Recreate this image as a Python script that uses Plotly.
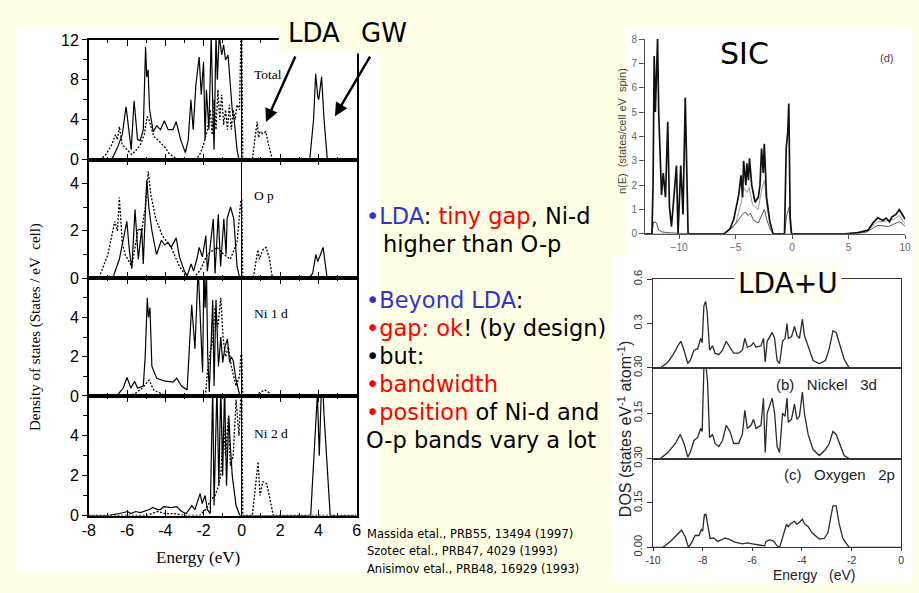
import plotly.graph_objects as go

W, H = 919, 593
BG = "#FFFFE5"

# ---------------- data (energy eV, DOS) ----------------
# Left figure: GW (solid) and LDA (dotted) DOS of NiO
total_gw = [(-8, 0), (-6.8, 0), (-6.5, 1.2), (-6.25, 2.5), (-6.05, 5.3), (-5.9, 2.5), (-5.78, 1.0),
            (-5.63, 5.9), (-5.45, 2.0), (-5.32, 1.9), (-5.15, 3.0), (-5.03, 11.3), (-4.97, 8.3),
            (-4.9, 9.0), (-4.82, 5.0), (-4.63, 2.8), (-4.45, 3.4), (-4.25, 3.0), (-4.05, 3.9),
            (-3.85, 3.0), (-3.6, 3.0), (-3.43, 3.8), (-3.2, 2.0), (-2.95, 0.7), (-2.8, 2.0),
            (-2.66, 6.0), (-2.54, 3.0), (-2.4, 7.5), (-2.23, 10.3), (-2.12, 6.5), (-2.0, 9.8),
            (-1.92, 2.0), (-1.85, 7.0), (-1.72, 3.0), (-1.6, 12.5), (-1.52, 5.5), (-1.45, 1.0),
            (-1.35, 12.5), (-1.28, 8.0), (-1.18, 12.5), (-1.05, 10.5), (-0.95, 11.5), (-0.85, 10.0),
            (-0.72, 10.5), (-0.62, 7.5), (-0.5, 5.0), (-0.4, 4.0), (-0.25, 1.0), (-0.15, 0.0),
            (3.55, 0), (3.75, 4.0), (3.86, 8.6), (3.97, 6.3), (4.02, 6.0), (4.17, 8.3), (4.3, 4.0),
            (4.47, 0), (4.6, 0.1), (6, 0.1)]
total_lda = [(-8, 0), (-7.4, 0), (-7.1, 0.5), (-6.8, 1.5), (-6.6, 2.5), (-6.5, 2.0), (-6.4, 3.3),
             (-6.25, 1.5), (-6.0, 1.0), (-5.75, 0.5), (-5.5, 1.0), (-5.3, 1.5), (-5.1, 2.5),
             (-4.95, 4.3), (-4.85, 4.0), (-4.6, 2.3), (-4.4, 2.0), (-4.2, 1.6), (-4.0, 1.2),
             (-3.8, 0.6), (-3.5, 0.2), (-3.2, 0), (-2.4, 0), (-2.2, 0.5), (-2.0, 1.5), (-1.8, 3.0),
             (-1.65, 5.0), (-1.55, 2.5), (-1.45, 6.0), (-1.35, 3.0), (-1.25, 7.0), (-1.15, 4.0),
             (-1.05, 6.5), (-0.95, 3.5), (-0.85, 5.0), (-0.75, 3.0), (-0.65, 5.5), (-0.55, 3.0),
             (-0.45, 5.0), (-0.35, 4.0), (-0.25, 5.5), (-0.12, 5.0), (-0.05, 12), (0.0, 12),
             (0.05, 0), (0.55, 0), (0.7, 2.0), (0.8, 3.8), (0.88, 2.2), (0.95, 2.8), (1.1, 2.6),
             (1.25, 2.8), (1.4, 1.5), (1.6, 0), (6, 0)]

op_gw = [(-8, 0), (-6.75, 0), (-6.4, 0.8), (-6.2, 1.6), (-6.01, 2.4), (-5.88, 1.2), (-5.75, 0.4),
         (-5.58, 2.9), (-5.45, 1.2), (-5.41, 0.8), (-5.23, 2.1), (-5.15, 0.6), (-4.97, 4.15),
         (-4.86, 3.0), (-4.7, 2.0), (-4.55, 1.3), (-4.46, 1.0), (-4.2, 1.6), (-4.03, 1.4),
         (-3.86, 1.5), (-3.69, 1.3), (-3.43, 1.7), (-3.26, 0.9), (-3.0, 0.3), (-2.86, 0.1),
         (-2.65, 0.6), (-2.52, 0.3), (-2.35, 0.8), (-2.23, 1.3), (-2.06, 0.9), (-1.88, 1.8),
         (-1.8, 0.3), (-1.49, 2.5), (-1.4, 0.2), (-1.23, 2.7), (-1.11, 0.5), (-0.94, 2.5),
         (-0.82, 1.0), (-0.77, 2.5), (-0.59, 3.0), (-0.42, 2.5), (-0.25, 0.5), (-0.11, 0),
         (3.5, 0), (3.7, 0.2), (3.87, 1.0), (3.97, 0.7), (4.25, 1.3), (4.46, 0), (4.6, 0.07), (6, 0.07)]
op_lda = [(-8, 0), (-7.47, 0), (-7.0, 1.0), (-6.8, 1.8), (-6.64, 2.4), (-6.5, 2.0), (-6.4, 3.4),
          (-6.25, 1.5), (-6.1, 1.0), (-5.75, 0.5), (-5.6, 1.2), (-5.41, 2.1), (-5.23, 2.0),
          (-5.05, 3.0), (-4.89, 4.5), (-4.75, 3.5), (-4.5, 2.5), (-4.15, 1.8), (-3.69, 1.3),
          (-3.26, 0.5), (-2.92, 0.1), (-2.6, 0), (-2.3, 0.2), (-2.14, 0.4), (-1.8, 1.0),
          (-1.3, 1.3), (-0.94, 1.0), (-0.6, 0.8), (-0.25, 1.5), (-0.05, 3.3), (0.0, 3.3),
          (0.05, 0), (0.6, 0), (0.84, 1.2), (0.92, 0.8), (1.1, 1.2), (1.27, 1.3), (1.45, 0.8),
          (1.6, 0), (6, 0)]

ni1_gw = [(-8, 0), (-6.7, 0), (-6.45, 0.1), (-6.2, 0.4), (-6.0, 0.94), (-5.8, 0.4), (-5.6, 0.74),
          (-5.45, 0.4), (-5.15, 0.5), (-5.05, 2.0), (-4.94, 5.0), (-4.88, 4.0), (-4.8, 4.5),
          (-4.7, 1.5), (-4.45, 0.9), (-4.0, 0.75), (-3.6, 0.7), (-3.4, 0.9), (-3.15, 0.5),
          (-2.86, 0.3), (-2.62, 4.64), (-2.45, 2.4), (-2.28, 6.5), (-2.15, 3.0), (-2.05, 1.2),
          (-1.98, 6.5), (-1.92, 4.5), (-1.85, 6.5), (-1.78, 2.0), (-1.7, 0.2), (-1.52, 4.9),
          (-1.45, 0.5), (-1.35, 4.9), (-1.22, 1.5), (-1.1, 3.0), (-1.0, 1.7), (-0.88, 2.5),
          (-0.75, 2.9), (-0.64, 1.7), (-0.55, 2.0), (-0.45, 1.8), (-0.3, 0.8), (-0.1, 0), (6, 0)]
ni1_lda = [(-8, 0), (-6.2, 0), (-5.6, 0.1), (-5.2, 0.4), (-4.85, 0.8), (-4.6, 0.3), (-4.2, 0.1),
           (-3.8, 0), (-1.9, 0), (-1.8, 1.2), (-1.67, 2.1), (-1.5, 3.0), (-1.4, 4.5), (-1.25, 3.5),
           (-1.1, 5.0), (-0.98, 3.0), (-0.85, 2.0), (-0.7, 2.5), (-0.55, 1.5), (-0.3, 0.5),
           (-0.12, 1.0), (-0.05, 2.1), (0.0, 2.1), (0.05, 0), (0.7, 0), (0.9, 0.15), (1.2, 0.3),
           (1.45, 0.15), (1.6, 0), (6, 0)]

ni2_gw = [(-8, 0), (-7.0, 0), (-6.4, 0.1), (-5.97, 0.2), (-5.8, 0.1), (-5.55, 0.2), (-5.3, 0.15),
          (-4.83, 0.3), (-4.66, 0.4), (-4.4, 0.3), (-4.25, 0.3), (-4.09, 0.45), (-3.7, 0.4),
          (-3.4, 0.45), (-3.15, 0.2), (-2.9, 0.1), (-2.61, 0.5), (-2.45, 0.3), (-2.18, 1.1),
          (-2.07, 0.6), (-1.92, 1.0), (-1.8, 0.3), (-1.65, 0.1), (-1.52, 6.5), (-1.45, 0.5),
          (-1.3, 6.5), (-1.2, 1.5), (-1.1, 6.5), (-1.0, 2.0), (-0.9, 6.5), (-0.8, 1.5),
          (-0.68, 5.0), (-0.6, 3.5), (-0.5, 2.0), (-0.3, 0.5), (-0.1, 0), (3.6, 0), (3.95, 6.1),
          (4.05, 3.0), (4.15, 6.1), (4.25, 6.1), (4.3, 5.0), (4.62, 0), (6, 0)]
ni2_lda = [(-8, 0), (-5.0, 0), (-4.7, 0.1), (-4.4, 0.2), (-4.0, 0.1), (-3.5, 0.1), (-3.0, 0),
           (-2.2, 0), (-1.9, 0.3), (-1.6, 0.8), (-1.4, 1.0), (-1.25, 1.4), (-1.1, 2.0),
           (-0.95, 4.5), (-0.85, 3.0), (-0.7, 5.0), (-0.6, 2.5), (-0.45, 3.0), (-0.3, 5.8),
           (-0.15, 4.0), (-0.05, 6), (0, 6), (0.05, 0), (0.55, 0), (0.72, 1.5), (0.85, 2.7),
           (0.95, 1.0), (1.1, 1.7), (1.3, 1.6), (1.5, 0.6), (1.65, 0), (6, 0)]

# SIC panel
sic_total = [(-13, 0), (-12.4, 0), (-12.3, 2.0), (-12.2, 7.3), (-12.1, 5.0), (-12.0, 7.0),
             (-11.9, 8.0), (-11.8, 5.0), (-11.7, 3.7), (-11.55, 1.6), (-11.4, 2.5), (-11.2, 1.5),
             (-11.0, 4.6), (-10.85, 1.1), (-10.67, 0.3), (-10.43, 1.6), (-10.23, 2.8), (-10.09, 0.0),
             (-9.85, 2.8), (-9.65, 0.8), (-9.45, 5.6), (-9.2, 0), (-6.03, 0), (-5.5, 0.2),
             (-5.16, 0.6), (-4.72, 1.6), (-4.52, 2.4), (-4.38, 1.5), (-4.29, 3.0), (-4.09, 2.0),
             (-4.0, 2.9), (-3.86, 2.2), (-3.77, 3.1), (-3.57, 2.0), (-3.28, 1.3), (-2.99, 1.5),
             (-2.84, 2.0), (-2.7, 3.5), (-2.55, 2.5), (-2.46, 3.7), (-2.26, 1.5), (-1.97, 0.5),
             (-1.68, 0), (-0.67, 0), (-0.52, 3.5), (-0.38, 4.2), (-0.29, 5.35), (-0.17, 0.7),
             (-0.05, 0), (4.7, 0), (5.86, 0.05), (6.72, 0.15), (7.16, 0.45), (7.59, 0.66),
             (8.03, 0.55), (8.32, 0.65), (8.61, 0.5), (8.84, 0.7), (9.19, 0.8), (9.48, 1.0),
             (9.77, 0.8), (10, 0.6)]
sic_part_a = [(-13, 0), (-6, 0), (-5, 0.4), (-4.5, 1.3), (-4.3, 1.9), (-4.0, 1.7), (-3.8, 1.9),
              (-3.5, 1.2), (-3.0, 1.0), (-2.7, 1.8), (-2.45, 2.2), (-2.2, 1.0), (-1.7, 0),
              (4.7, 0), (6.5, 0.1), (7.2, 0.35), (7.6, 0.5), (8.0, 0.5), (8.5, 0.55), (9.0, 0.6),
              (9.5, 0.75), (9.8, 0.55), (10, 0.4)]
sic_part_b = [(-13, 0), (-12.4, 0), (-12.25, 0.5), (-12.0, 0.45), (-11.8, 0.15), (-11.5, 0.08),
              (-11.0, 0.05), (-10.0, 0.03), (-9.2, 0), (-6.0, 0), (-5.2, 0.3), (-4.7, 0.6),
              (-4.4, 0.8), (-4.1, 0.9), (-3.9, 0.75), (-3.7, 0.85), (-3.4, 0.55), (-3.0, 0.45),
              (-2.7, 0.75), (-2.45, 1.0), (-2.25, 0.6), (-1.95, 0.2), (-1.68, 0), (-0.67, 0),
              (-0.5, 0.7), (-0.35, 0.9), (-0.25, 1.1), (-0.15, 0.3), (-0.05, 0), (4.7, 0),
              (6.5, 0.05), (7.2, 0.25), (7.6, 0.35), (8.0, 0.33), (8.5, 0.3), (9.0, 0.4),
              (9.5, 0.5), (9.8, 0.4), (10, 0.3)]

# LDA+U panels
ldau_total = [(-10, 0), (-9.7, 0.0), (-9.4, 0.04), (-9.15, 0.1), (-9.0, 0.15), (-8.88, 0.18),
              (-8.75, 0.12), (-8.6, 0.03), (-8.5, 0.05), (-8.35, 0.12), (-8.2, 0.13), (-8.08, 0.2),
              (-8.02, 0.17), (-7.95, 0.42), (-7.88, 0.45), (-7.82, 0.38), (-7.72, 0.12), (-7.6, 0.15),
              (-7.5, 0.1), (-7.35, 0.09), (-7.2, 0.12), (-7.05, 0.18), (-6.9, 0.14), (-6.75, 0.1),
              (-6.55, 0.1), (-6.4, 0.12), (-6.3, 0.2), (-6.2, 0.14), (-6.05, 0.15), (-5.95, 0.17),
              (-5.85, 0.14), (-5.65, 0.15), (-5.55, 0.2), (-5.48, 0.04), (-5.4, 0.18), (-5.2, 0.24),
              (-5.1, 0.2), (-5.0, 0.05), (-4.9, 0.03), (-4.78, 0.18), (-4.68, 0.2), (-4.6, 0.3),
              (-4.55, 0.2), (-4.42, 0.21), (-4.3, 0.28), (-4.2, 0.22), (-4.1, 0.2), (-3.98, 0.33),
              (-3.9, 0.22), (-3.75, 0.15), (-3.55, 0.05), (-3.3, 0.03), (-3.05, 0.05), (-2.9, 0.13),
              (-2.75, 0.25), (-2.62, 0.24), (-2.45, 0.15), (-2.3, 0.06), (-2.1, 0.0), (0, 0)]
ldau_ni3d = [(-10, 0), (-9.7, 0), (-9.4, 0.02), (-9.1, 0.05), (-8.9, 0.08), (-8.75, 0.05),
             (-8.6, 0.005), (-8.5, 0.02), (-8.35, 0.06), (-8.2, 0.07), (-8.08, 0.1), (-8.02, 0.09),
             (-7.95, 0.3), (-7.88, 0.32), (-7.8, 0.25), (-7.72, 0.07), (-7.6, 0.08), (-7.5, 0.05),
             (-7.35, 0.04), (-7.2, 0.06), (-7.05, 0.11), (-6.9, 0.09), (-6.75, 0.05), (-6.55, 0.05),
             (-6.4, 0.08), (-6.3, 0.16), (-6.2, 0.1), (-6.05, 0.11), (-5.95, 0.13), (-5.85, 0.1),
             (-5.65, 0.11), (-5.55, 0.2), (-5.48, 0.02), (-5.4, 0.15), (-5.2, 0.2), (-5.1, 0.15),
             (-5.0, 0.04), (-4.9, 0.02), (-4.78, 0.15), (-4.68, 0.14), (-4.6, 0.2), (-4.55, 0.12),
             (-4.42, 0.13), (-4.3, 0.18), (-4.2, 0.13), (-4.1, 0.14), (-3.98, 0.22), (-3.9, 0.15),
             (-3.75, 0.08), (-3.55, 0.03), (-3.3, 0.01), (-3.05, 0.03), (-2.9, 0.05), (-2.75, 0.09),
             (-2.62, 0.08), (-2.45, 0.04), (-2.3, 0.01), (-2.1, 0), (0, 0)]
ldau_o2p = [(-10, 0), (-9.6, 0.0), (-9.3, 0.02), (-9.0, 0.045), (-8.85, 0.058), (-8.7, 0.035),
            (-8.57, 0.0), (-8.45, 0.015), (-8.3, 0.04), (-8.15, 0.04), (-8.05, 0.06), (-8.0, 0.055),
            (-7.93, 0.11), (-7.87, 0.112), (-7.8, 0.08), (-7.7, 0.03), (-7.55, 0.032), (-7.4, 0.02),
            (-7.25, 0.025), (-7.1, 0.032), (-6.95, 0.028), (-6.7, 0.018), (-6.4, 0.012),
            (-6.2, 0.015), (-6.0, 0.012), (-5.7, 0.008), (-5.5, 0.005), (-5.45, 0.02), (-5.3, 0.025),
            (-5.15, 0.022), (-5.0, 0.005), (-4.9, 0.0), (-4.8, 0.03), (-4.7, 0.06), (-4.62, 0.078),
            (-4.55, 0.07), (-4.45, 0.08), (-4.3, 0.088), (-4.2, 0.078), (-4.1, 0.085),
            (-3.98, 0.095), (-3.9, 0.08), (-3.75, 0.07), (-3.6, 0.05), (-3.45, 0.04), (-3.3, 0.028),
            (-3.1, 0.03), (-2.95, 0.05), (-2.82, 0.11), (-2.75, 0.14), (-2.62, 0.14), (-2.5, 0.08),
            (-2.35, 0.03), (-2.1, 0), (0, 0)]

left_names = ["Total", "O p", "Ni 1 d", "Ni 2 d"]
left_xticks = [-8, -6, -4, -2, 0, 2, 4, 6]
sic_xticks = [-10, -5, 0, 5, 10]
ldau_xticks = [-10, -8, -6, -4, -2, 0]
citations = ["Massida etal., PRB55, 13494 (1997)",
             "Szotec etal., PRB47, 4029 (1993)",
             "Anisimov etal., PRB48, 16929 (1993)"]

# ---------------- helpers ----------------
def X(p):
    return p / W


def Y(p):
    return 1 - p / H


fig = go.Figure()


def sfx(i):
    return "" if i == 1 else str(i)


def add_line(pairs, i, color="black", width=1.2, dash="solid"):
    fig.add_trace(go.Scatter(x=[p[0] for p in pairs], y=[p[1] for p in pairs],
                             xaxis="x" + sfx(i), yaxis="y" + sfx(i), mode="lines",
                             line=dict(color=color, width=width, dash=dash),
                             showlegend=False, hoverinfo="skip"))


layout_axes = {}
annotations = []


def txt(x, y, s, size, family, color="black", xanchor="center", angle=0, **kw):
    d = dict(x=X(x), y=Y(y), xref="paper", yref="paper", text=s, showarrow=False,
             font=dict(family=family, size=size, color=color), xanchor=xanchor,
             yanchor="middle", textangle=angle)
    d.update(kw)
    annotations.append(d)


SERIF = "Liberation Serif"
SANS = "Liberation Sans"
SLIDE = "DejaVu Sans"

# ---------------- left figure (4 stacked panels) ----------------
left = [
    (total_gw, total_lda, [0, 12], [0, 4, 8, 12], 2, 29, 153, 65),
    (op_gw, op_lda, [0, 5], [0, 2, 4], 1, 153, 276, 190),
    (ni1_gw, ni1_lda, [0, 6], [0, 2, 4], 1, 276, 398, 313),
    (ni2_gw, ni2_lda, [0, 6], [0, 2, 4], 1, 398, 522, 437),
]
for k, (gw, lda, yr, tv, mdt, top, bot, laby) in enumerate(left):
    i = k + 1
    add_line(lda, i, width=1.3, dash="2px,1.6px")
    add_line(gw, i, width=1.2)
    layout_axes["xaxis" + sfx(i)] = dict(
        domain=[X(82), X(354)], range=[-8, 6], anchor="y" + sfx(i),
        showline=True, linecolor="black", linewidth=1.5, mirror="ticks",
        ticks="inside", ticklen=6, tickwidth=1.2, tickcolor="black",
        tickmode="array", tickvals=left_xticks, ticktext=[str(v) for v in left_xticks],
        minor=dict(ticks="inside", ticklen=3, dtick=1, tick0=0, tickcolor="black"),
        showticklabels=(i == 4), tickfont=dict(family=SANS, size=16, color="black"),
        zeroline=True, zerolinecolor="black", zerolinewidth=1.3, showgrid=False)
    layout_axes["yaxis" + sfx(i)] = dict(
        domain=[Y(bot), Y(top)], range=yr, anchor="x" + sfx(i),
        showline=True, linecolor="black", linewidth=1.5, mirror=True,
        ticks="outside", ticklen=5, tickwidth=1.2, tickcolor="black",
        tickmode="array", tickvals=tv, ticktext=[str(v) for v in tv],
        minor=dict(ticks="outside", ticklen=4, dtick=mdt, tick0=0, tickcolor="black"),
        tickfont=dict(family=SANS, size=16, color="black"),
        zeroline=False, showgrid=False)
    txt(248, laby, left_names[k], 13.5, SERIF, xanchor="left")

txt(28, 327, "Density of states (States / eV&nbsp;&nbsp;cell)", 15, SERIF, angle=-90)
txt(193, 566, "Energy (eV)", 17, SERIF)

# ---------------- SIC panel ----------------
add_line(sic_part_a, 5, color="#9a9a9a", width=1.0)
add_line(sic_part_b, 5, color="#555555", width=1.0)
add_line(sic_total, 5, color="#111111", width=1.7)
layout_axes["xaxis5"] = dict(
    domain=[X(647), X(911)], range=[-13, 10], anchor="y5",
    showline=True, linecolor="#555", linewidth=1.2, ticks="outside", ticklen=4,
    tickcolor="#555", tickmode="array", tickvals=sic_xticks,
    ticktext=["\u221210", "\u22125", "0", "5", "10"],
    tickfont=dict(family=SANS, size=10, color="#666"), zeroline=False, showgrid=False)
layout_axes["yaxis5"] = dict(
    domain=[Y(230), Y(28)], range=[0, 8], anchor="x5",
    showline=True, linecolor="#555", linewidth=1.2, ticks="outside", ticklen=5,
    tickcolor="#555", dtick=1, tickfont=dict(family=SANS, size=10, color="#666"),
    zeroline=False, showgrid=False)
txt(623, 124, "n(E)  (states/cell eV  spin)", 11, SANS, color="#444", angle=-90)
txt(748, 43, "SIC", 30, SLIDE)
txt(892, 48, "(d)", 11, SANS, color="#444")

# ---------------- LDA+U panels ----------------
ldau = [
    (ldau_total, [0, 0.6], [0.3, 0.6], ["0.3", "0.6"], 277, 369),
    (ldau_ni3d, [0, 0.30], [0.15, 0.30], ["0.15", "0.30"], 369, 463),
    (ldau_o2p, [0, 0.30], [0.0, 0.15, 0.30], ["0.00", "0.15", "0.30"], 463, 555),
]
for k, (d, yr, tv, tt, top, bot) in enumerate(ldau):
    i = k + 6
    add_line(d, i, color="#2a2a2a", width=1.3)
    layout_axes["xaxis" + sfx(i)] = dict(
        domain=[X(655), X(907)], range=[-10, 0], anchor="y" + sfx(i),
        showline=True, linecolor="#333", linewidth=1.3, mirror=True,
        ticks="outside" if i == 8 else "", ticklen=3, tickcolor="#333",
        tickmode="array", tickvals=ldau_xticks, ticktext=[str(v) for v in ldau_xticks],
        showticklabels=(i == 8), tickfont=dict(family=SANS, size=10.5, color="#333"),
        zeroline=False, showgrid=False)
    layout_axes["yaxis" + sfx(i)] = dict(
        domain=[Y(bot), Y(top)], range=yr, anchor="x" + sfx(i),
        showline=True, linecolor="#333", linewidth=1.3, mirror=True,
        ticks="outside", ticklen=5, tickcolor="#333",
        tickmode="array", tickvals=tv, ticktext=tt, tickangle=-90,
        tickfont=dict(family=SANS, size=11, color="#333"),
        zeroline=False, showgrid=False)

txt(778, 386, "(b)&nbsp;&nbsp;&nbsp;Nickel&nbsp;&nbsp;&nbsp;3d", 15, SANS, color="#222", xanchor="left")
txt(786, 479, "(c)&nbsp;&nbsp;&nbsp;Oxygen&nbsp;&nbsp;&nbsp;2p", 15, SANS, color="#222", xanchor="left")
txt(626, 432, "DOS (states eV<sup>-1</sup> atom<sup>-1</sup>)", 16, SANS, color="#222", angle=-90)
txt(818, 584, "Energy&nbsp;&nbsp;&nbsp;(eV)", 14, SANS, color="#222")
txt(792, 281, "LDA+U", 28, SLIDE, bgcolor="#FFFFF2", borderpad=3)

# ---------------- slide text ----------------
BLUE = "#3333CC"
RED = "#FF0000"


def c(s, col):
    return '<span style="color:%s">%s</span>' % (col, s)


fs = 22.5
txt(362, 212, c("\u2022LDA", BLUE) + ": " + c("tiny gap", RED) + ", Ni-d", fs, SLIDE, xanchor="left")
txt(379, 241, "higher than O-p", fs, SLIDE, xanchor="left")
txt(362, 299, c("\u2022Beyond LDA", BLUE) + ":", fs, SLIDE, xanchor="left")
txt(362, 328, c("\u2022gap: ok", RED) + "! (by design)", fs, SLIDE, xanchor="left")
txt(362, 357, "\u2022but:", fs, SLIDE, xanchor="left")
txt(362, 386, c("\u2022bandwidth", RED), fs, SLIDE, xanchor="left")
txt(362, 415, c("\u2022position", RED) + " of Ni-d and", fs, SLIDE, xanchor="left")
txt(362, 444, "O-p bands vary a lot", fs, SLIDE, xanchor="left")

for j, s in enumerate(citations):
    txt(363, 541 + 18 * j, s, 11.5, SLIDE, xanchor="left")

# LDA / GW labels and arrows
txt(311, 22, "LDA", 26, SLIDE)
txt(382, 22, "GW", 26, SLIDE)
for hx, hy, tx, ty in [(262, 114, 292, 47), (332, 108, 368, 47)]:
    annotations.append(dict(x=X(hx), y=Y(hy), xref="paper", yref="paper", text="",
                            showarrow=True, ax=tx - hx, ay=ty - hy, axref="pixel", ayref="pixel",
                            arrowhead=2, arrowsize=1.1, arrowwidth=2.4, arrowcolor="black"))

shapes = [
    dict(type="rect", xref="paper", yref="paper", x0=X(7), x1=X(378), y0=Y(580), y1=Y(16),
         fillcolor="white", line=dict(width=0), layer="below"),
    dict(type="rect", xref="paper", yref="paper", x0=X(627), x1=X(919), y0=Y(252), y1=Y(16),
         fillcolor="white", line=dict(width=0), layer="below"),
    dict(type="rect", xref="paper", yref="paper", x0=X(612), x1=X(919), y0=Y(593), y1=Y(252),
         fillcolor="white", line=dict(width=0), layer="below"),
    dict(type="rect", xref="paper", yref="paper", x0=X(275), x1=X(420), y0=Y(43), y1=Y(0),
         fillcolor=BG, line=dict(width=0), layer="above"),
]

fig.update_layout(width=W, height=H, margin=dict(l=0, r=0, t=0, b=0),
                  paper_bgcolor=BG, plot_bgcolor="rgba(0,0,0,0)", showlegend=False,
                  shapes=shapes, annotations=annotations, **layout_axes)

fig.write_html("out.html")
